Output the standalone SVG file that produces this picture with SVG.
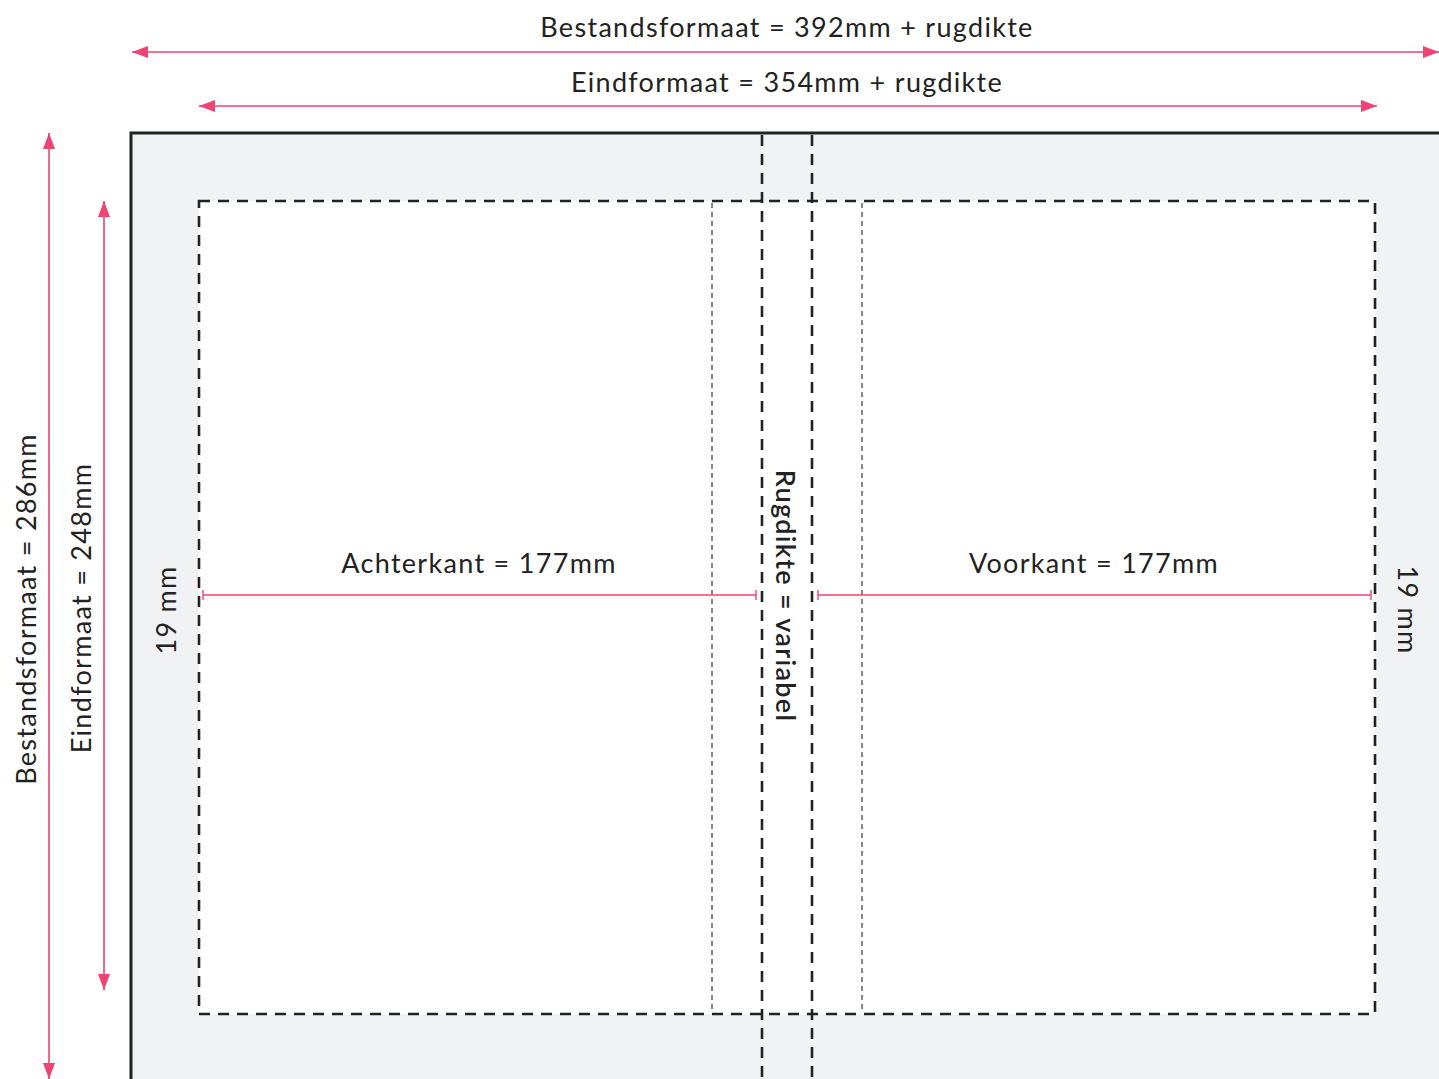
<svg xmlns="http://www.w3.org/2000/svg" width="1439" height="1079" viewBox="0 0 1439 1079">
<style>
text{font-family:Lato,"Open Sans","Liberation Sans",sans-serif;fill:#222;font-size:27px;letter-spacing:1.3px}
.dim{stroke:#ee4373;stroke-width:1.6;fill:none}
.thick{stroke:#222;stroke-width:2.6;stroke-dasharray:11 8}
.thin{stroke:#555;stroke-width:1.4;fill:none;stroke-dasharray:5 4}
</style>
<defs>
<marker id="ah" viewBox="0 0 16 12" refX="16" refY="6" markerWidth="16" markerHeight="12" markerUnits="userSpaceOnUse" orient="auto-start-reverse"><path d="M0,0 L16,6 L0,12 Z" fill="#ee4373"/></marker>
<marker id="tk" viewBox="0 0 2 10" refX="1" refY="5" markerWidth="2" markerHeight="10" markerUnits="userSpaceOnUse" orient="auto"><path d="M1,0 V10" stroke="#ee4373" stroke-width="1.4"/></marker>
</defs>
<rect width="1439" height="1079" fill="#fff"/>
<g id="sheet">
<rect x="131" y="133" width="1320" height="960" fill="#f1f2f4" stroke="#222" stroke-width="3"/>
</g>
<g id="trim">
<rect x="199" y="201" width="1176" height="813" class="thick" fill="#ffffff"/>
<line x1="712" y1="203" x2="712" y2="1013" class="thin"/>
<line x1="862" y1="203" x2="862" y2="1013" class="thin"/>
<line x1="762" y1="135" x2="762" y2="1079" class="thick" fill="none"/>
<line x1="812" y1="135" x2="812" y2="1079" class="thick" fill="none"/>
</g>
<g id="connectors">
<line x1="132" y1="52" x2="1439" y2="52" class="dim" marker-start="url(#ah)" marker-end="url(#ah)"/>
<line x1="199" y1="106" x2="1377" y2="106" class="dim" marker-start="url(#ah)" marker-end="url(#ah)"/>
<line x1="49" y1="133" x2="49" y2="1079" class="dim" marker-start="url(#ah)" marker-end="url(#ah)"/>
<line x1="104" y1="201" x2="104" y2="990" class="dim" marker-start="url(#ah)" marker-end="url(#ah)"/>
<line x1="203" y1="595" x2="756" y2="595" class="dim" marker-start="url(#tk)" marker-end="url(#tk)"/>
<line x1="818" y1="595" x2="1371" y2="595" class="dim" marker-start="url(#tk)" marker-end="url(#tk)"/>
</g>
<g id="labels">
<text x="787" y="37" text-anchor="middle">Bestandsformaat = 392mm + rugdikte</text>
<text x="787" y="92" text-anchor="middle">Eindformaat = 354mm + rugdikte</text>
<text x="479" y="573" text-anchor="middle">Achterkant = 177mm</text>
<text x="1094" y="573" text-anchor="middle">Voorkant = 177mm</text>
<text transform="translate(776,596) rotate(90)" text-anchor="middle" style="font-weight:600">Rugdikte = variabel</text>
<text transform="translate(176,610) rotate(-90)" text-anchor="middle">19 mm</text>
<text transform="translate(1398,610) rotate(90)" text-anchor="middle">19 mm</text>
<text transform="translate(36,609) rotate(-90)" text-anchor="middle">Bestandsformaat = 286mm</text>
<text transform="translate(91,608) rotate(-90)" text-anchor="middle">Eindformaat = 248mm</text>
</g>
</svg>
